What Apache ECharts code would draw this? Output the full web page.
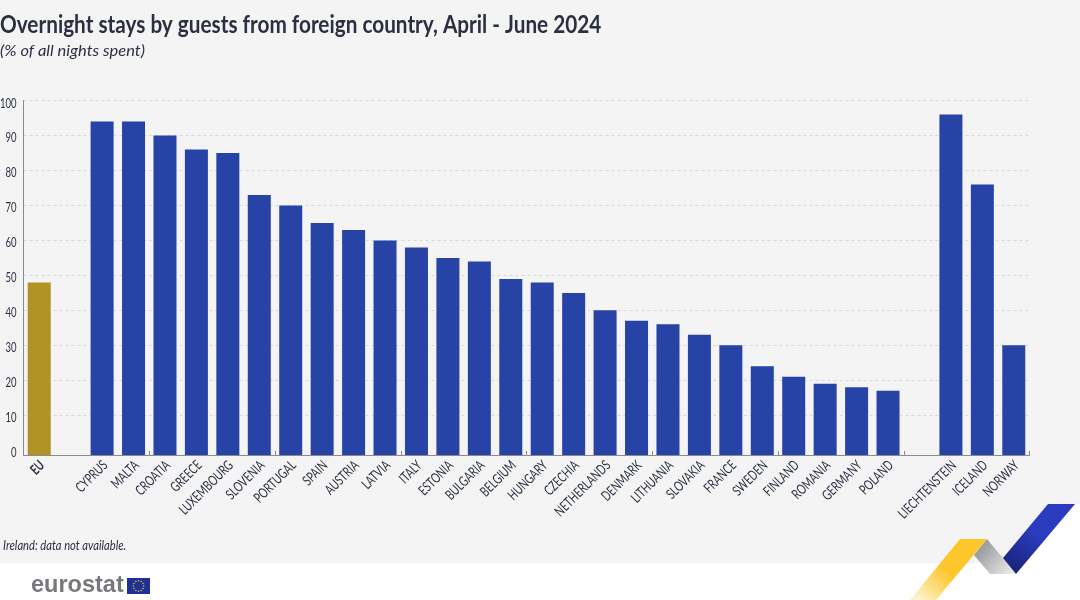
<!DOCTYPE html>
<html>
<head>
<meta charset="UTF-8">
<title>Overnight stays by guests from foreign country</title>
<script src="https://cdn.jsdelivr.net/npm/echarts@6/dist/echarts.min.js"></script>
<style>
html, body { margin: 0; padding: 0; background: #fff; }
#chart { width: 1080px; height: 600px; }
</style>
</head>
<body>
<div id="chart"></div>
<script type="text/javascript">
// empty strings / nulls are the gaps between EU, member states and EFTA
var categories = ['EU', '', 'CYPRUS', 'MALTA', 'CROATIA', 'GREECE', 'LUXEMBOURG', 'SLOVENIA', 'PORTUGAL', 'SPAIN', 'AUSTRIA', 'LATVIA', 'ITALY', 'ESTONIA', 'BULGARIA', 'BELGIUM', 'HUNGARY', 'CZECHIA', 'NETHERLANDS', 'DENMARK', 'LITHUANIA', 'SLOVAKIA', 'FRANCE', 'SWEDEN', 'FINLAND', 'ROMANIA', 'GERMANY', 'POLAND', '', 'LIECHTENSTEIN', 'ICELAND', 'NORWAY'];
var values = [48, null, 94, 94, 90, 86, 85, 73, 70, 65, 63, 60, 58, 55, 54, 49, 48, 45, 40, 37, 36, 33, 30, 24, 21, 19, 18, 17, null, 96, 76, 30];
var yTicks = [0, 10, 20, 30, 40, 50, 60, 70, 80, 90, 100];

// no condensed font is installed, so text is squeezed with scaleX
var FONT = 'Lato, sans-serif';
var BLUE = '#2743a6', GOLD = '#b09324', TEXT = '#2a3040';

function grad(x, y, x2, y2, stops) {
	return new echarts.graphic.LinearGradient(x, y, x2, y2, stops);
}

function label(text, x, y, font, sx, opts) {
	opts = opts || {};
	return {
		type : 'text',
		z : 20,
		x : x,
		y : y,
		scaleX : sx,
		rotation : opts.rotation || 0,
		style : {
			text : text,
			font : font,
			fill : opts.fill || TEXT,
			align : opts.align || 'left',
			verticalAlign : 'middle'
		}
	};
}

var chart = echarts.init(document.getElementById('chart'), null, { renderer : 'canvas' });
chart.setOption({
	animation : false,
	backgroundColor : '#f4f4f4',
	// the original's baseline sits a little under zero: bars run on grid 0,
	// the 0-100 gridlines on grid 1
	grid : [ {
		left : 23.5,
		right : 50.5,
		top : 100.5,
		bottom : 145,
		outerBoundsMode : 'none'
	}, {
		left : 23.5,
		right : 50.5,
		top : 100.5,
		bottom : 149.7,
		outerBoundsMode : 'none'
	} ],
	xAxis : [ {
		type : 'category',
		gridIndex : 0,
		data : categories,
		axisLine : { onZero : false, lineStyle : { color : '#8a8a8a', width : 1 } },
		axisTick : { show : true, inside : true, length : 4, alignWithLabel : false, lineStyle : { color : '#8a8a8a' } },
		axisLabel : { show : false }
	}, {
		type : 'category',
		gridIndex : 1,
		data : categories,
		show : false
	} ],
	yAxis : [ {
		type : 'value',
		gridIndex : 0,
		min : -1.35,
		max : 100,
		startValue : -1.35,
		axisLine : { show : true, lineStyle : { color : '#8a8a8a', width : 1 } },
		axisTick : { show : false },
		axisLabel : { show : false },
		splitLine : { show : false }
	}, {
		type : 'value',
		gridIndex : 1,
		min : yTicks[0],
		max : yTicks[yTicks.length - 1],
		interval : 10,
		axisLine : { show : false },
		axisTick : { show : false },
		axisLabel : { show : false },
		splitLine : { showMinLine : false, lineStyle : { color : '#d8d8d8', type : [ 3, 3 ], width : 1 } }
	} ],
	series : [ {
		type : 'bar',
		xAxisIndex : 0,
		yAxisIndex : 0,
		barWidth : 23,
		z : 3,
		data : values.map(function (v, i) {
			return { value : v, itemStyle : { color : categories[i] === 'EU' ? GOLD : BLUE } };
		})
	} ]
});

// page furniture: footer band, ribbon, logo
var graphics = [ {
	type : 'rect',
	z : 5,
	shape : { x : 0, y : 563, width : 1080, height : 37 },
	style : { fill : '#ffffff' }
}, {
	type : 'polygon',
	z : 5,
	shape : { points : [ [ 1075, 504 ], [ 1080, 504 ], [ 1080, 574 ], [ 1016, 574 ] ] },
	style : { fill : '#ffffff' }
}, {
	type : 'polygon',
	z : 6,
	shape : { points : [ [ 987, 539 ], [ 974, 555 ], [ 990, 574 ], [ 1016, 574 ] ] },
	style : { fill : grad(0, 0, 1, 1, [ { offset : 0, color : '#85868c' }, { offset : 1, color : '#f2f2f2' } ]) }
}, {
	type : 'polygon',
	z : 7,
	shape : { points : [ [ 960, 539 ], [ 987, 539 ], [ 936, 600 ], [ 910, 600 ] ] },
	style : { fill : grad(0.8, 0, 0.1, 1, [ { offset : 0, color : '#fdc62c' }, { offset : 0.5, color : '#fdc62c' }, { offset : 1, color : '#fdf3d2' } ]) }
}, {
	type : 'polygon',
	z : 7,
	shape : { points : [ [ 1048, 504 ], [ 1075, 504 ], [ 1016, 574 ], [ 1003, 558 ] ] },
	style : { fill : grad(0.9, 0, 0.2, 1, [ { offset : 0, color : '#2a3bc0' }, { offset : 0.5, color : '#2a3bc0' }, { offset : 1, color : '#1a2478' } ]) }
}, {
	type : 'text',
	z : 10,
	x : 31,
	y : 586,
	style : { text : 'eurostat', font : 'bold 23.5px "Liberation Sans", sans-serif', fill : '#77787b', verticalAlign : 'middle' }
}, {
	type : 'rect',
	z : 11,
	shape : { x : 127, y : 578, width : 23, height : 16 },
	style : { fill : '#1f3193' }
} ];

// eu flag stars
for (var s = 0; s < 12; s++) {
	graphics.push({
		type : 'circle',
		z : 12,
		shape : {
			cx : 138.5 + 5.2 * Math.cos(s * Math.PI / 6),
			cy : 586 + 5.2 * Math.sin(s * Math.PI / 6),
			r : 0.75
		},
		style : { fill : '#f2c230' }
	});
}

// titles and note
graphics.push(label('Overnight stays by guests from foreign country, April - June 2024', 0, 25, 'bold 25px ' + FONT, 0.83));
graphics.push(label('(% of all nights spent)', 0, 51, 'italic 16px ' + FONT, 1.03));
graphics.push(label('Ireland: data not available.', 3, 546, 'italic 13px ' + FONT, 0.86));

// axis labels, placed through the axes
yTicks.forEach(function (t) {
	var py = chart.convertToPixel({ yAxisIndex : 1 }, t);
	graphics.push(label(String(t), 16.5, py + 2.5, '14px ' + FONT, 0.68, { align : 'right' }));
});
categories.forEach(function (c, i) {
	if (!c) return;
	var px = chart.convertToPixel({ xAxisIndex : 0 }, i);
	var bold = c === 'EU';
	graphics.push(label(c, px + 3, 463, (bold ? 'bold ' : '') + '14px ' + FONT, 0.72, { align : 'right', rotation : Math.PI / 4 }));
});

chart.setOption({ graphic : graphics });
</script>
</body>
</html>
